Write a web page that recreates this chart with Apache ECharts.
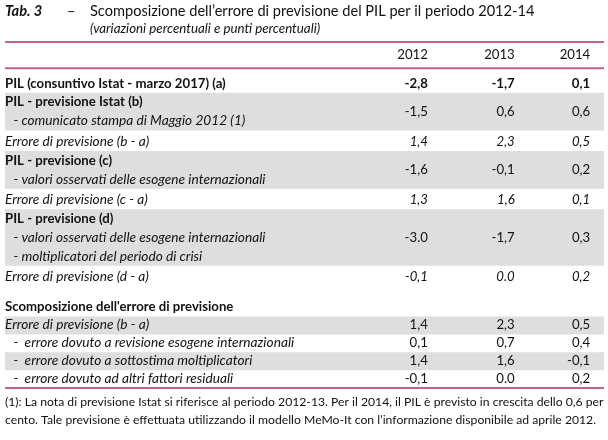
<!DOCTYPE html>
<html><head><meta charset="utf-8">
<script src="https://cdn.jsdelivr.net/npm/echarts@6/dist/echarts.min.js"></script>
<style>html,body{margin:0;padding:0;background:#fff}#c{width:608px;height:440px}</style>
</head><body><div id="c"></div>
<script>
// ---------- data ----------
const years = ['2012', '2013', '2014'];
const rowLabels = [
  [],
  ['PIL (consuntivo Istat - marzo 2017) (a)'],
  ['PIL - previsione Istat (b)', '- comunicato stampa di Maggio 2012 (1)'],
  ['Errore di previsione (b - a)'],
  ['PIL - previsione (c)', '- valori osservati delle esogene internazionali'],
  ['Errore di previsione (c - a)'],
  ['PIL - previsione (d)', '- valori osservati delle esogene internazionali', '- moltiplicatori del periodo di crisi'],
  ['Errore di previsione (d - a)'],
  [],
  ["Scomposizione dell'errore di previsione"],
  ['Errore di previsione (b - a)'],
  ['-  errore dovuto a revisione esogene internazionali'],
  ['-  errore dovuto a sottostima moltiplicatori'],
  ['-  errore dovuto ad altri fattori residuali']
];
const values2012 = [null, '-2,8', '-1,5', '1,4', '-1,6', '1,3', '-3.0', '-0,1', null, null, '1,4', '0,1', '1,4', '-0,1'];
const values2013 = [null, '-1,7', '0,6', '2,3', '-0,1', '1,6', '-1,7', '0.0', null, null, '2,3', '0,7', '1,6', '0.0'];
const values2014 = [null, '0,1', '0,6', '0,5', '0,2', '0,1', '0,3', '0,2', null, null, '0,5', '0,4', '-0,1', '0,2'];
const rowKinds = ['header', 'total', 'forecast', 'error', 'forecast', 'error', 'forecast', 'error',
  'blank', 'section', 'errorShaded', 'comp', 'compShaded', 'comp'];
const titleTab = 'Tab. 3';
const titleMain = 'Scomposizione dell\u2019errore di previsione del PIL per il periodo 2012-14';
const titleSub = '(variazioni percentuali e punti percentuali)';
const footnoteLines = [
  '(1): La nota di previsione Istat si riferisce al periodo 2012-13. Per il 2014, il PIL \u00e8 previsto in crescita dello 0,6 per',
  'cento. Tale previsione \u00e8 effettuata utilizzando il modello MeMo-It con l\u2019informazione disponibile ad aprile 2012.'
];

// ---------- layout (not data) ----------
const rowHeights = [1.4, 1.3, 2, 1.1, 2, 1.1, 3, 1.1, 0.6, 1, 0.95, 0.95, 0.95, 0.95];
const rowStart = [];
rowHeights.reduce((acc, h, i) => { rowStart[i] = acc; return acc + h; }, 0);
const totalUnits = rowHeights.reduce((a, b) => a + b, 0);
const colRight = [70.6, 85.1, 97.7];
const indent = 1.4;
const FONT = 'Lato';
const RULE = '#c2657f';
const SHADE = '#dedede';
const INK = '#111';

// font sizes fitted so that reference strings get the reference's widths
const mctx = document.createElement('canvas').getContext('2d');
function fitSize(text, style, target) {
  mctx.font = style + ' 100px ' + FONT;
  return Math.round(100 * target / mctx.measureText(text).width * 10) / 10;
}
const FS_B = fitSize(rowLabels[1][0], 'bold', 221);
const FS_I = fitSize(rowLabels[4][1], 'italic', 252);
const FS_R = FS_B;
const FS_T = fitSize(titleMain, 'normal', 444);
const FS_S = fitSize(titleSub, 'italic', 230);
const FS_F = fitSize(footnoteLines[0], 'normal', 597);

const valueCols = [values2012, values2013, values2014];

function renderItem(params, api) {
  const i = api.value(2);
  const kind = rowKinds[i];
  const pTop = api.coord([0, rowStart[i]]);
  const pBot = api.coord([100, rowStart[i] + rowHeights[i]]);
  const x0 = pTop[0], y0 = pTop[1], x1 = pBot[0], y1 = pBot[1];
  const u = api.size([0, 1])[1];
  const ch = [];
  const shaded = kind === 'forecast' || kind === 'errorShaded' || kind === 'compShaded';
  if (shaded) {
    ch.push({ type: 'rect', shape: { x: x0, y: y0, width: x1 - x0, height: y1 - y0 }, style: { fill: SHADE } });
  }
  const labels = rowLabels[i];
  const n = labels.length;
  labels.forEach((t, k) => {
    const y = y1 - (n - k - 0.5) * u;
    let weight = 'normal', style = 'normal', dx = 0;
    if (kind === 'total' || kind === 'section') weight = 'bold';
    if (kind === 'forecast') { if (k === 0) weight = 'bold'; else { style = 'italic'; dx = indent; } }
    if (kind === 'error' || kind === 'errorShaded') style = 'italic';
    if (kind === 'comp' || kind === 'compShaded') { style = 'italic'; dx = indent; }
    const fs = style === 'italic' ? FS_I : FS_B;
    const xx = api.coord([dx, 0])[0];
    ch.push({ type: 'text', x: xx, y: y, style: { text: t, fill: INK, font: style + ' ' + weight + ' ' + fs + 'px ' + FONT, textAlign: 'left', textVerticalAlign: 'middle' } });
  });
  if (kind === 'header') {
    years.forEach((yr, c) => {
      const xx = api.coord([colRight[c], 0])[0];
      ch.push({ type: 'text', x: xx, y: (y0 + y1) / 2, style: { text: yr, fill: INK, font: 'normal ' + FS_R + 'px ' + FONT, textAlign: 'right', textVerticalAlign: 'middle' } });
    });
    ch.push({ type: 'line', shape: { x1: x0, y1: y0, x2: x1, y2: y0 }, style: { stroke: RULE, lineWidth: 2 } });
    ch.push({ type: 'line', shape: { x1: x0, y1: y1, x2: x1, y2: y1 }, style: { stroke: RULE, lineWidth: 2 } });
  }
  const vy = n > 1 ? y1 - n * u / 2 : y1 - 0.5 * u;
  valueCols.forEach((col, c) => {
    const v = col[i];
    if (v == null) return;
    const weight = kind === 'total' ? 'bold' : 'normal';
    const style = kind === 'error' ? 'italic' : 'normal';
    const xx = api.coord([colRight[c], 0])[0];
    ch.push({ type: 'text', x: xx, y: vy, style: { text: v, fill: INK, font: style + ' ' + weight + ' ' + FS_R + 'px ' + FONT, textAlign: 'right', textVerticalAlign: 'middle' } });
  });
  if (i === rowKinds.length - 1) {
    ch.push({ type: 'line', shape: { x1: x0, y1: y1, x2: x1, y2: y1 }, style: { stroke: RULE, lineWidth: 2 } });
  }
  return { type: 'group', children: ch };
}

const chart = echarts.init(document.getElementById('c'), null, { renderer: 'canvas' });
chart.setOption({
  backgroundColor: '#fff',
  animation: false,
  title: [
    { text: titleTab, left: 5, top: 4, padding: 0, textStyle: { fontFamily: FONT, fontSize: FS_T, fontWeight: 'bold', fontStyle: 'italic', color: INK } },
    { text: '\u2013', left: 67, top: 4, padding: 0, textStyle: { fontFamily: FONT, fontSize: FS_T, fontWeight: 'normal', color: INK } },
    { text: titleMain, left: 90, top: 4, padding: 0, textStyle: { fontFamily: FONT, fontSize: FS_T, fontWeight: 'normal', color: INK } },
    { text: titleSub, left: 90, top: 22, padding: 0, textStyle: { fontFamily: FONT, fontSize: FS_S, fontWeight: 'normal', fontStyle: 'italic', color: INK } },
    { text: footnoteLines.join('\n'), left: 5, top: 393, padding: 0, textStyle: { fontFamily: FONT, fontSize: FS_F, fontWeight: 'normal', color: INK, lineHeight: 18 } }
  ],
  grid: { left: 5, right: 4, top: 42, bottom: 52 },
  xAxis: { type: 'value', min: 0, max: 100, show: false },
  yAxis: { type: 'value', min: 0, max: totalUnits, inverse: true, show: false },
  series: [{
    type: 'custom',
    renderItem: renderItem,
    encode: { x: 0, y: 1 },
    clip: false,
    data: rowKinds.map((_, i) => [0, rowStart[i], i])
  }]
});
</script>
</body></html>
